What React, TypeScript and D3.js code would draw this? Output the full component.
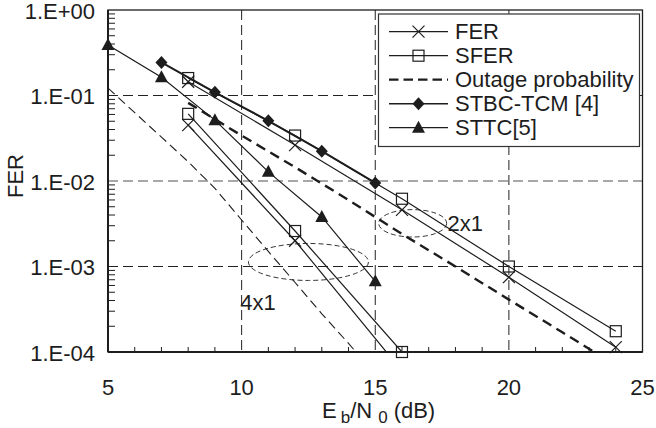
import React from "react";
import * as d3 from "d3";

// ---- data ----
const snr2x1 = [8, 12, 16, 20, 24];
const fer2x1 = [0.145, 0.0263, 0.0046, 7.5e-4, 1.14e-4];
const sfer2x1 = [0.16, 0.034, 0.0062, 1.0e-3, 1.75e-4];

const snr4x1 = [8, 12, 16];
const fer4x1 = [0.045, 0.002, 6e-5];
const sfer4x1 = [0.061, 0.0026, 1.0e-4];

const snrOut2x1 = [8, 10, 12, 14, 16, 18, 20, 22, 24];
const out2x1 = [0.082, 0.034, 0.0145, 0.006, 0.0024, 1.0e-3, 4.1e-4, 1.7e-4, 7e-5];

const snrOut4x1 = [5, 6, 7, 8, 9, 10, 11, 12, 13, 14, 15];
const out4x1 = [0.122, 0.063, 0.0326, 0.0168, 0.0082, 0.0035, 0.0015, 6.5e-4, 2.8e-4, 1.26e-4, 5.5e-5];

const snrStbc = [7, 9, 11, 13, 15];
const stbcTcm = [0.244, 0.109, 0.0506, 0.0223, 0.0095];

const snrSttc = [5, 7, 9, 11, 13, 15];
const sttc = [0.39, 0.163, 0.0515, 0.0128, 0.0038, 6.7e-4];

const xTicks = [5, 10, 15, 20, 25];
const yTicks = [1, 1e-1, 1e-2, 1e-3, 1e-4];
const yTickLabels = ["1.E+00", "1.E-01", "1.E-02", "1.E-03", "1.E-04"];
const legendLabels = ["FER", "SFER", "Outage probability", "STBC-TCM [4]", "STTC[5]"];

// annotation ellipses (centre in data units, radii in px)
const ellipseCentres = [
  { x: 16.4, y: 0.0032, rx: 34, ry: 13.7 },
  { x: 12.5, y: 0.00113, rx: 60, ry: 18.5 },
];
const annLabels = [
  { x: 17.7, y: 0.0032, text: "2x1" },
  { x: 9.95, y: 0.00038, text: "4x1" },
];

// ---- layout ----
const W = 656, H = 428;
const L = 108, R = 642.5, T = 10, B = 352;
const FONT = "'Liberation Sans', Arial, sans-serif";
const INK = "#1d1d1d";

const x = d3.scaleLinear().domain([5, 25]).range([L, R]);
const y = d3.scaleLog().domain([1e-4, 1]).range([B, T]);

const zip = (xs: number[], ys: number[]) => xs.map((v, i) => [v, ys[i]] as [number, number]);
const line = d3.line<[number, number]>().x((d) => x(d[0])).y((d) => y(d[1]));

type Shape = "x" | "square" | "diamond" | "triangle";

function Marker({ cx, cy, shape }: { cx: number; cy: number; shape: Shape }) {
  const s = 6;
  if (shape === "x")
    return (
      <path d={`M${cx - s},${cy - s}L${cx + s},${cy + s}M${cx - s},${cy + s}L${cx + s},${cy - s}`} stroke={INK} strokeWidth={1.2} fill="none" />
    );
  if (shape === "square")
    return <rect x={cx - 5.5} y={cy - 5.5} width={11} height={11} stroke={INK} strokeWidth={1.2} fill="none" />;
  if (shape === "diamond")
    return <path d={`M${cx},${cy - 6.5}L${cx + 6},${cy}L${cx},${cy + 6.5}L${cx - 6},${cy}Z`} fill={INK} />;
  return <path d={`M${cx},${cy - 7}L${cx + 6.5},${cy + 5}L${cx - 6.5},${cy + 5}Z`} fill={INK} />;
}

const series: { xs: number[]; ys: number[]; shape: Shape | null; width: number; dash?: string }[] = [
  { xs: snrOut4x1, ys: out4x1, shape: null, width: 1.1, dash: "9,5" },
  { xs: snrOut2x1, ys: out2x1, shape: null, width: 2.4, dash: "10,6" },
  { xs: snr2x1, ys: fer2x1, shape: "x", width: 1.2 },
  { xs: snr2x1, ys: sfer2x1, shape: "square", width: 1.2 },
  { xs: snr4x1, ys: fer4x1, shape: "x", width: 1.2 },
  { xs: snr4x1, ys: sfer4x1, shape: "square", width: 1.2 },
  { xs: snrStbc, ys: stbcTcm, shape: "diamond", width: 2 },
  { xs: snrSttc, ys: sttc, shape: "triangle", width: 1.2 },
];

const legendShapes: (Shape | null)[] = ["x", "square", null, "diamond", "triangle"];

export default function App() {
  const yMinor: number[] = [];
  for (let e = -4; e < 0; e++) for (let m = 2; m <= 9; m++) yMinor.push(m * Math.pow(10, e));
  const xMinor = d3.range(6, 25).filter((v) => v % 5 !== 0);

  return (
    <svg width={W} height={H} style={{ position: "absolute", left: 0, top: 0, background: "#fff" }} fontFamily={FONT}>
      <defs>
        <clipPath id="plot">
          <rect x={L} y={T} width={R - L} height={B - T} />
        </clipPath>
      </defs>
      <rect width={W} height={H} fill="#fff" />

      {/* grid */}
      {[10, 15, 20].map((v) => (
        <line key={"gx" + v} x1={x(v)} x2={x(v)} y1={T} y2={B} stroke="#222" strokeWidth={1} strokeDasharray="10,5" />
      ))}
      {[1e-1, 1e-2, 1e-3].map((v) => (
        <line key={"gy" + v} x1={L} x2={R} y1={y(v)} y2={y(v)} stroke={v === 1e-2 ? "#8a8a8a" : "#222"} strokeWidth={v === 1e-2 ? 1.6 : 1} strokeDasharray="10,5" />
      ))}

      {/* minor ticks */}
      {yMinor.map((v, i) => (
        <line key={"ym" + i} x1={L} x2={L + 7} y1={y(v)} y2={y(v)} stroke={INK} strokeWidth={1} />
      ))}
      {xMinor.map((v) => (
        <line key={"xm" + v} x1={x(v)} x2={x(v)} y1={B} y2={B - 5} stroke={INK} strokeWidth={1} />
      ))}

      {/* ellipses */}
      {ellipseCentres.map((e, i) => (
        <ellipse key={"el" + i} cx={x(e.x)} cy={y(e.y)} rx={e.rx} ry={e.ry} fill="none" stroke="#333" strokeWidth={1} strokeDasharray="5,3" />
      ))}

      {/* series lines */}
      <g clipPath="url(#plot)">
        {series.map((s, i) => (
          <path key={"s" + i} d={line(zip(s.xs, s.ys)) || ""} fill="none" stroke={INK} strokeWidth={s.width} strokeDasharray={s.dash} />
        ))}
      </g>
      {/* markers */}
      {series.map((s, i) =>
        s.shape
          ? zip(s.xs, s.ys)
              .filter((d) => d[1] >= 0.95e-4)
              .map((d, j) => <Marker key={"m" + i + "_" + j} cx={x(d[0])} cy={y(d[1])} shape={s.shape as Shape} />)
          : null
      )}

      {/* frame */}
      <rect x={L} y={T} width={R - L} height={B - T} fill="none" stroke={INK} strokeWidth={1.3} />
      <line x1={L} x2={L} y1={T} y2={B} stroke={INK} strokeWidth={2} />
      <line x1={L} x2={R} y1={B} y2={B} stroke={INK} strokeWidth={2} />

      {/* annotation labels */}
      {annLabels.map((a, i) => (
        <text key={"al" + i} x={x(a.x)} y={y(a.y)} fontSize={22} fill={INK} dominantBaseline="central">
          {a.text}
        </text>
      ))}

      {/* legend */}
      <g>
        <rect x={378.5} y={14} width={261} height={132.5} fill="#fff" stroke="#333" strokeWidth={1.2} />
        {legendLabels.map((lab, i) => {
          const ly = 31.7 + i * 24;
          const shp = legendShapes[i];
          return (
            <g key={"lg" + i}>
              <line x1={389} x2={448} y1={ly} y2={ly} stroke={INK} strokeWidth={shp === "diamond" ? 1.6 : shp === null ? 2.2 : 1.2} strokeDasharray={shp === null ? "9.5,5" : undefined} />
              {shp && <Marker cx={418.5} cy={ly} shape={shp} />}
              <text x={455} y={ly} fontSize={22} fill={INK} dominantBaseline="central">
                {lab}
              </text>
            </g>
          );
        })}
      </g>

      {/* axes labels */}
      {yTicks.map((v, i) => (
        <text key={"yt" + i} x={95} y={y(v) + 1} fontSize={22} fill={INK} textAnchor="end" dominantBaseline="central">
          {yTickLabels[i]}
        </text>
      ))}
      {xTicks.map((v) => (
        <text key={"xt" + v} x={x(v)} y={395} fontSize={22} fill={INK} textAnchor="middle">
          {v}
        </text>
      ))}
      <text x={15} y={176} fontSize={22} fill={INK} textAnchor="middle" dominantBaseline="central" transform="rotate(-90,15,176)">
        FER
      </text>
      <text x={322} y={418} fontSize={22} fill={INK}>
        E
        <tspan dx={4} dy={4.5} fontSize={17}>b</tspan>
        <tspan dy={-4.5}>/N</tspan>
        <tspan dx={6} dy={4.5} fontSize={17}>0</tspan>
        <tspan dx={6} dy={-4.5}>(dB)</tspan>
      </text>
    </svg>
  );
}
